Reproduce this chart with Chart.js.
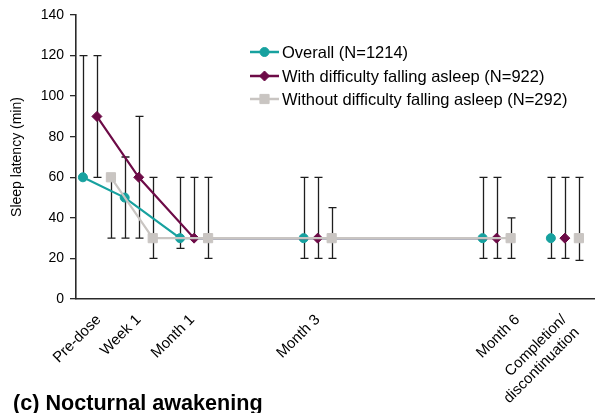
<!DOCTYPE html>
<html>
<head>
<meta charset="utf-8">
<title>Sleep latency</title>
<script src="https://cdn.jsdelivr.net/npm/chart.js@4/dist/chart.umd.min.js"></script>
<style>
  html, body { margin: 0; padding: 0; background: #fff; }
  #wrap { position: relative; width: 595px; height: 413px; overflow: hidden; }
  #panel {
    position: absolute; left: 13px; top: 390px;
    font: bold 21.6px "Liberation Sans", Arial, sans-serif; color: #000;
    white-space: nowrap;
  }
</style>
</head>
<body>
<div id="wrap">
  <canvas id="chart" width="595" height="413"></canvas>
  <div id="panel">(c) Nocturnal awakening</div>
</div>
<script>
// Visits (x categories) and where they sit on the uneven study timeline
const visits = ['Pre-dose', 'Week 1', 'Month 1', 'Month 3', 'Month 6', ['Completion/', 'discontinuation']];
const visitAxis = [0, 0.68, 1.58, 3.59, 6.5, 7.61];
// where each visit label is anchored on that timeline
const labelAxis = [0.03, 0.68, 1.55, 3.59, 6.84, 7.6];

// Sleep latency (min): median and interquartile range
const overallMedian = [60, 50, 30, 30, 30, 30];
const overallLow    = [60, 30, 25, 20, 20, 20];
const overallHigh   = [120, 70, 60, 60, 60, 60];

const withMedian = [90, 60, 30, 30, 30, 30];
const withLow    = [60, 30, 30, 20, 20, 20];
const withHigh   = [120, 90, 60, 60, 60, 60];

const withoutMedian = [60, 30, 30, 30, 30, 30];
const withoutLow    = [30, 20, 20, 20, 20, 19];
const withoutHigh   = [60, 60, 60, 45, 40, 60];

const yTicks = [0, 20, 40, 60, 80, 100, 120, 140];

const FONT = '"Liberation Sans", Arial, sans-serif';
const DODGE = 0.228;

const series = [
  { label: 'Overall (N=1214)', median: overallMedian, low: overallLow, high: overallHigh,
    color: '#17a19f', style: 'circle', radius: 4.5, shift: -DODGE, order: 2 },
  { label: 'With difficulty falling asleep (N=922)', median: withMedian, low: withLow, high: withHigh,
    color: '#6d0b47', style: 'rectRot', radius: 5, shift: 0, order: 1 },
  { label: 'Without difficulty falling asleep (N=292)', median: withoutMedian, low: withoutLow, high: withoutHigh,
    color: '#c9c5c2', style: 'rect', radius: 6.5, shift: DODGE, order: 0 }
];

// error bars drawn under the markers
const errorBars = {
  id: 'errorBars',
  beforeDatasetsDraw(chart) {
    const { ctx, scales: { x, y } } = chart;
    ctx.save();
    ctx.strokeStyle = '#1e1e1e';
    ctx.lineWidth = 1.3;
    chart.data.datasets.forEach((ds) => {
      ds.data.forEach((pt, j) => {
        const px = Math.round(x.getPixelForValue(pt.x)) + 0.5;
        const yl = y.getPixelForValue(ds.errLow[j]);
        const yh = y.getPixelForValue(ds.errHigh[j]);
        ctx.beginPath();
        ctx.moveTo(px, yl); ctx.lineTo(px, yh);
        ctx.moveTo(px - 4, yl); ctx.lineTo(px + 4, yl);
        ctx.moveTo(px - 4, yh); ctx.lineTo(px + 4, yh);
        ctx.stroke();
      });
    });
    ctx.restore();
  }
};

// legend with line + marker icons, placed inside the plot
const lineLegend = {
  id: 'lineLegend',
  afterDraw(chart) {
    const { ctx } = chart;
    const rows = [52, 76, 99];
    ctx.save();
    series.forEach((s, i) => {
      const yy = rows[i];
      ctx.strokeStyle = s.color;
      ctx.lineWidth = 2.5;
      ctx.beginPath();
      ctx.moveTo(250, yy); ctx.lineTo(279, yy);
      ctx.stroke();
      ctx.fillStyle = s.color;
      ctx.strokeStyle = s.color;
      ctx.lineWidth = 1;
      Chart.helpers.drawPoint(ctx, { pointStyle: s.style, radius: s.radius, rotation: 0, borderWidth: 1 }, 264.5, yy);
      ctx.fillStyle = '#000';
      ctx.font = '16.5px ' + FONT;
      ctx.textBaseline = 'middle';
      ctx.textAlign = 'left';
      ctx.fillText(s.label, 282, yy + 1);
    });
    ctx.restore();
  }
};

const datasets = series.map((s) => ({
  label: s.label,
  data: s.median.map((v, i) => ({ x: visitAxis[i] + s.shift, y: v })),
  errLow: s.low,
  errHigh: s.high,
  borderColor: s.color,
  backgroundColor: s.color,
  borderWidth: 2.2,
  pointStyle: s.style,
  pointRadius: s.radius,
  pointBorderWidth: 1,
  pointHoverRadius: s.radius,
  tension: 0,
  order: s.order,
  // completion/discontinuation is not joined to the timeline
  segment: {
    borderColor: (c) => (c.p1DataIndex === visits.length - 1 ? 'rgba(0,0,0,0)' : undefined)
  }
}));

new Chart(document.getElementById('chart'), {
  type: 'line',
  data: { datasets },
  options: {
    responsive: false,
    animation: false,
    devicePixelRatio: 1,
    layout: { autoPadding: false, padding: { top: 15, right: 0, bottom: 0, left: 0 } },
    plugins: {
      legend: { display: false },
      tooltip: { enabled: false }
    },
    scales: {
      x: {
        type: 'linear',
        min: -0.34,
        max: 8.1,
        afterBuildTicks: (scale) => { scale.ticks = labelAxis.map((v) => ({ value: v })); },
        afterFit: (scale) => {
          scale.height = 114;
          scale.paddingLeft = 0;
          scale.paddingRight = 0;
        },
        grid: { display: false },
        border: { display: true, color: '#2a2a2a', width: 1.6 },
        ticks: {
          autoSkip: false,
          maxRotation: 45,
          minRotation: 45,
          padding: 4,
          color: '#000',
          font: { family: FONT, size: 15 },
          callback: (val, i) => visits[i]
        }
      },
      y: {
        min: 0,
        max: 140,
        afterBuildTicks: (scale) => { scale.ticks = yTicks.map((v) => ({ value: v })); },
        afterFit: (scale) => { scale.width = 76; },
        grid: { drawOnChartArea: false, drawTicks: true, tickLength: 6, color: '#2a2a2a', lineWidth: 1.3 },
        border: { display: true, color: '#2a2a2a', width: 1.6 },
        ticks: { color: '#000', padding: 6, font: { family: FONT, size: 14 } },
        title: {
          display: true,
          text: 'Sleep latency (min)',
          color: '#000',
          font: { family: FONT, size: 14 },
          padding: { top: 9, bottom: 0 }
        }
      }
    }
  },
  plugins: [errorBars, lineLegend]
});
</script>
</body>
</html>
